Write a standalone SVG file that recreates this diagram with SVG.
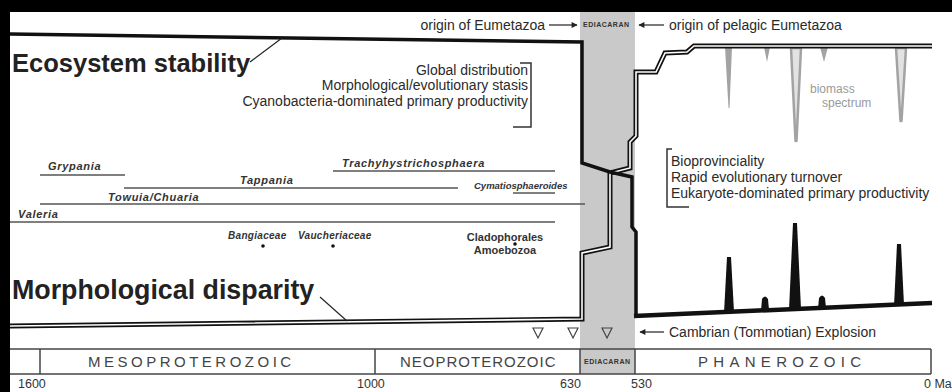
<svg xmlns="http://www.w3.org/2000/svg" width="952" height="392" viewBox="0 0 952 392">
<defs>
<marker id="ah" viewBox="0 0 10 10" refX="9" refY="5" markerWidth="7" markerHeight="6" orient="auto" markerUnits="userSpaceOnUse"><path d="M0,0 L10,5 L0,10 z" fill="#222"/></marker>
<style>
.t{font-family:"Liberation Sans",Arial,sans-serif;fill:#2a2a2a}
.lab{font-size:14px}
.big{font-size:25.5px;font-weight:bold;fill:#222}
.tax{font-size:11px;font-weight:bold;font-style:italic;letter-spacing:0.7px;fill:#333}
.sm{font-size:10px;font-weight:bold;font-style:italic;letter-spacing:0.3px;fill:#333}
.cl{font-size:11px;font-weight:bold;fill:#333}
.era{font-size:15px;fill:#444}
.num{font-size:12.5px;fill:#333}
.edi{font-size:7px;font-weight:bold;fill:#333}
.rng{stroke:#555;stroke-width:1.3;fill:none}
.ln{stroke:#222;stroke-width:1.2;fill:none}
.br{stroke:#333;stroke-width:1.5;fill:none}
.tl{stroke:#444;stroke-width:1.5;fill:none}
.blk{fill:#111}
.gsp{fill:#a3a3a3}
.gv{fill:#e2e2e2;stroke:#a3a3a3;stroke-width:2.5;stroke-linejoin:round}
.tri{fill:none;stroke:#444;stroke-width:1.2}
</style>
</defs>
<rect x="0" y="0" width="952" height="392" fill="#fff"/>
<rect id="ediacaran-band" x="580" y="12" width="55" height="362" fill="#c9c9c9"/>
<rect x="0" y="0" width="952" height="12" fill="#000"/>
<rect x="0" y="0" width="10" height="392" fill="#000"/>

<g id="biomass-spectrum">
<polygon class="gsp" points="725,47 732,47 729.5,108 728.5,108"/>
<polygon class="gsp" points="764,47 770,47 767,62"/>
<polygon class="gv" points="791,48 801,48 796.5,141 795.5,141"/>
<polygon class="gsp" points="820,47 828,47 824,62"/>
<polygon class="gv" points="896,48 906,48 901.5,121 900.5,121"/>
<text class="t" x="810" y="93" font-size="12" style="fill:#9a9a9a">biomass</text>
<text class="t" x="822" y="107" font-size="12" style="fill:#9a9a9a">spectrum</text>
</g>

<g id="curves">
<path id="disparity-curve" d="M10,326 L582,319 L582,253 L610,247 L610,173 L630,168 L630,142 L636,136 L636,72 L656,72 L665,53 L687,52 L694,46 L932,46" fill="none" stroke="#111" stroke-width="5" stroke-linejoin="miter"/>
<path d="M10,326 L582,319 L582,253 L610,247 L610,173 L630,168 L630,142 L636,136 L636,72 L656,72 L665,53 L687,52 L694,46 L932,46" fill="none" stroke="#fff" stroke-width="1.6"/>
<path id="stability-curve" d="M10,34 L582,42 L582,163 L610,172 L632,177 L632,227 L636,232 L636,316" fill="none" stroke="#111" stroke-width="3.5"/>
<path d="M634,316 L932,303" fill="none" stroke="#111" stroke-width="4.5"/>
<polygon class="blk" points="724,313 727,257 731,257 734,312"/>
<path class="blk" d="M761,311 L762,299 Q765,294 768,299 L769,310 z"/>
<polygon class="blk" points="789,310 793,223 797,223 801,309"/>
<path class="blk" d="M818,309 L819,298 Q822,293 825,298 L826,308 z"/>
<polygon class="blk" points="894,306 897,244 901,244 904,305"/>
</g>

<g id="titles">
<text class="t big" x="12" y="72">Ecosystem stability</text>
<text class="t big" x="12" y="299" style="font-size:26.8px">Morphological disparity</text>
</g>

<g id="proterozoic-traits">
<text class="t lab" x="528" y="75" text-anchor="end">Global distribution</text>
<text class="t lab" x="528" y="90" text-anchor="end">Morphological/evolutionary stasis</text>
<text class="t lab" x="528" y="106" text-anchor="end">Cyanobacteria-dominated primary productivity</text>
<path class="br" d="M520,63 H531 V127 H513"/>
</g>

<g id="phanerozoic-traits">
<text class="t lab" x="671" y="166">Bioprovinciality</text>
<text class="t lab" x="671" y="182">Rapid evolutionary turnover</text>
<text class="t lab" x="671" y="198">Eukaryote-dominated primary productivity</text>
<path class="br" d="M672,149 H667 V207 H689"/>
</g>

<g id="fossil-ranges">
<line class="rng" x1="40" y1="175" x2="125" y2="175"/>
<text class="t tax" x="48" y="170">Grypania</text>
<line class="rng" x1="124" y1="188" x2="458" y2="188"/>
<text class="t tax" x="240" y="184">Tappania</text>
<line class="rng" x1="40" y1="204" x2="585" y2="204"/>
<text class="t tax" x="108" y="201">Towuia/Chuaria</text>
<line class="rng" x1="10" y1="222" x2="555" y2="222"/>
<text class="t tax" x="18" y="218">Valeria</text>
<line class="rng" x1="333" y1="171" x2="555" y2="171"/>
<text class="t tax" x="342" y="167">Trachyhystrichosphaera</text>
<line class="rng" x1="513" y1="193" x2="555" y2="193"/>
<text class="t tax" x="474" y="189" style="font-size:9.5px;letter-spacing:0px">Cymatiosphaeroides</text>
</g>

<g id="point-occurrences">
<text class="t sm" x="228" y="239">Bangiaceae</text>
<circle cx="263" cy="246" r="1.8" fill="#111"/>
<text class="t sm" x="298" y="239">Vaucheriaceae</text>
<circle cx="333" cy="246" r="1.8" fill="#111"/>
<text class="t cl" x="505" y="241" text-anchor="middle">Cladophorales</text>
<text class="t cl" x="505" y="254" text-anchor="middle">Amoebozoa</text>
<circle cx="515" cy="244" r="1.8" fill="#111"/>
</g>

<g id="events">
<text class="t lab" x="545" y="30" text-anchor="end">origin of Eumetazoa</text>
<text class="t edi" x="606" y="27" text-anchor="middle" textLength="46">EDIACARAN</text>
<text class="t lab" x="669" y="30">origin of pelagic Eumetazoa</text>
<text class="t lab" x="669" y="337">Cambrian (Tommotian) Explosion</text>
<polygon class="tri" points="533,328 543,328 538,338"/>
<polygon class="tri" points="568,328 578,328 573,338"/>
<polygon class="tri" points="602,328 612,328 607,338"/>
</g>

<g id="connectors">
<line class="ln" x1="549" y1="25" x2="577" y2="25" marker-end="url(#ah)"/>
<line class="ln" x1="664" y1="25" x2="639" y2="25" marker-end="url(#ah)"/>
<line class="ln" x1="664" y1="332" x2="640" y2="332" marker-end="url(#ah)"/>
<line class="ln" x1="250" y1="62" x2="282" y2="38"/>
<line class="ln" x1="320" y1="297" x2="347" y2="321"/>
</g>

<g id="timescale">
<line class="tl" x1="10" y1="349" x2="931" y2="349"/>
<line class="tl" x1="10" y1="374" x2="931" y2="374"/>
<line class="tl" x1="40" y1="349" x2="40" y2="374"/>
<line class="tl" x1="375" y1="349" x2="375" y2="374"/>
<line class="tl" x1="580" y1="349" x2="580" y2="374"/>
<line class="tl" x1="635" y1="349" x2="635" y2="374"/>
<line class="tl" x1="931" y1="349" x2="931" y2="374"/>
<text class="t era" x="88" y="367" letter-spacing="3.5">MESOPROTEROZOIC</text>
<text class="t era" x="400" y="367" letter-spacing="1">NEOPROTEROZOIC</text>
<text class="t edi" x="607" y="364" text-anchor="middle" textLength="46">EDIACARAN</text>
<text class="t era" x="698" y="367" letter-spacing="5.3">PHANEROZOIC</text>
<text class="t num" x="18" y="388">1600</text>
<text class="t num" x="357" y="388">1000</text>
<text class="t num" x="560" y="388">630</text>
<text class="t num" x="631" y="388">530</text>
<text class="t num" x="924" y="388">0 Ma</text>
</g>
</svg>
